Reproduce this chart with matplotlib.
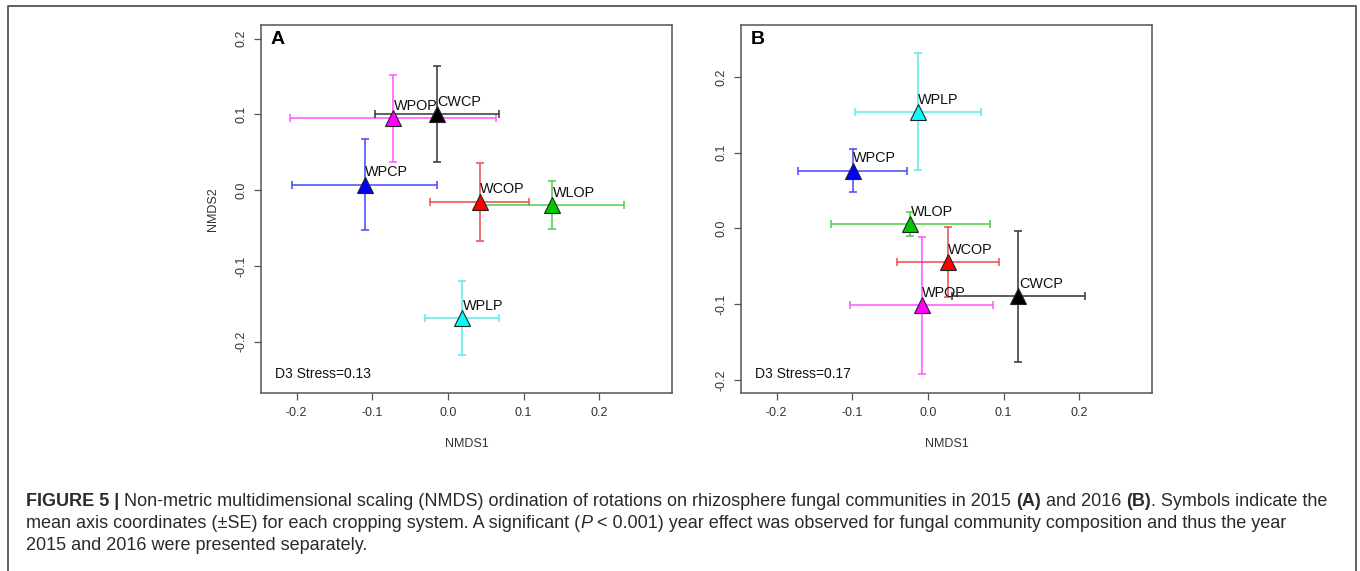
import matplotlib.pyplot as plt
from matplotlib.lines import Line2D

plt.rcParams['font.family'] = ['Liberation Sans', 'DejaVu Sans']

# cropping systems, same order in both years
groups = ["WPOP", "CWCP", "WPCP", "WCOP", "WLOP", "WPLP"]
fill_colors = ["#FF00FF", "#000000", "#0000FF", "#FF0000", "#00C800", "#00FFFF"]
bar_colors = ["#FF55FF", "#333333", "#4646FF", "#F04848", "#4ACD4A", "#5CEAEA"]

# 2015 (A): mean NMDS coordinates and SE
x_2015 = [-0.0725, -0.0150, -0.1100, 0.0420, 0.1378, 0.0185]
y_2015 = [0.0951, 0.1002, 0.0073, -0.0153, -0.0198, -0.1687]
sex_2015 = [0.1359, 0.0820, 0.0955, 0.0658, 0.0951, 0.0494]
sey_2015 = [0.0573, 0.0632, 0.0597, 0.0518, 0.0317, 0.0485]

# 2016 (B)
x_2016 = [-0.0082, 0.1194, -0.0995, 0.0260, -0.0233, -0.0137]
y_2016 = [-0.1014, -0.0897, 0.0762, -0.0444, 0.0057, 0.1539]
sex_2016 = [0.0945, 0.0881, 0.0718, 0.0674, 0.1048, 0.0833]
sey_2016 = [0.0903, 0.0866, 0.0282, 0.0461, 0.0159, 0.0773]

ticks = [-0.2, -0.1, 0.0, 0.1, 0.2]
tick_labels = ["-0.2", "-0.1", "0.0", "0.1", "0.2"]

fig = plt.figure(figsize=(13.6, 5.71), dpi=100)

W, H = 1360.0, 571.0
ax_a = fig.add_axes([261 / W, (H - 393.3) / H, 411.3 / W, 368.3 / H])
ax_b = fig.add_axes([741 / W, (H - 393.3) / H, 411.3 / W, 368.3 / H])


def draw_panel(ax, xs, ys, sexs, seys, letter, stress, ylim, ylabel):
    for i in range(len(groups)):
        ax.errorbar(xs[i], ys[i], xerr=sexs[i], yerr=seys[i], fmt='none',
                    ecolor=bar_colors[i], elinewidth=1.1, capsize=2.8,
                    capthick=1.1, zorder=2)
    for i in range(len(groups)):
        ax.plot(xs[i], ys[i], marker='^', ms=11, mfc=fill_colors[i],
                mec='#222222', mew=0.8, ls='none', zorder=3)
    for i in range(len(groups)):
        ax.annotate(groups[i], (xs[i], ys[i]), xytext=(0.5, 6),
                    textcoords='offset points', ha='left', va='baseline',
                    fontsize=10.4, color='#111111', zorder=4)

    ax.set_xlim(-0.247, 0.2965)
    ax.set_ylim(*ylim)
    ax.set_xticks(ticks)
    ax.set_xticklabels(tick_labels)
    ax.set_yticks(ticks)
    ax.set_yticklabels(tick_labels, rotation=90, va='center')
    ax.tick_params(length=5, width=0.9, color='#555555', labelsize=9,
                   labelcolor='#333333', pad=5)
    for s in ax.spines.values():
        s.set_color('#555555')
        s.set_linewidth(1.1)

    ax.text(0.024, 0.948, letter, transform=ax.transAxes, fontsize=14,
            fontweight='bold', ha='left', va='baseline')
    ax.text(0.034, 0.042, stress, transform=ax.transAxes, fontsize=10,
            ha='left', va='baseline', color='#111111')
    ax.text(0.5, -0.138, "NMDS1", transform=ax.transAxes, fontsize=9,
            ha='center', va='center', color='#333333')
    if ylabel:
        ax.text(-0.117, 0.5, "NMDS2", transform=ax.transAxes, fontsize=9,
                ha='center', va='center', rotation=90, color='#333333')


draw_panel(ax_a, x_2015, y_2015, sex_2015, sey_2015, "A", "D3 Stress=0.13",
           (-0.268, 0.218), True)
draw_panel(ax_b, x_2016, y_2016, sex_2016, sey_2016, "B", "D3 Stress=0.17",
           (-0.2176, 0.2686), False)

# frame around the figure (open at the bottom)
fx = [8 / W, 8 / W, 1355.7 / W, 1355.7 / W]
fy = [0, (H - 6) / H, (H - 6) / H, 0]
fig.add_artist(Line2D(fx, fy, transform=fig.transFigure, color='#555555',
                      lw=1.3))

# caption, drawn run by run so bold/italic pieces sit inline
caption = [
    [("FIGURE 5 | ", 'bold', 'normal'),
     ("Non-metric multidimensional scaling (NMDS) ordination of rotations on rhizosphere fungal communities in 2015 ", 'normal', 'normal'),
     ("(A)", 'bold', 'normal'), (" and 2016 ", 'normal', 'normal'),
     ("(B)", 'bold', 'normal'), (". Symbols indicate the", 'normal', 'normal')],
    [("mean axis coordinates (\u00b1SE) for each cropping system. A significant (", 'normal', 'normal'),
     ("P", 'normal', 'italic'),
     (" < 0.001) year effect was observed for fungal community composition and thus the year", 'normal', 'normal')],
    [("2015 and 2016 were presented separately.", 'normal', 'normal')],
]
baselines = [505.7, 528.0, 550.3]

renderer = fig.canvas.get_renderer()
for runs, base in zip(caption, baselines):
    x = 25.7 / W
    for text, weight, style in runs:
        t = fig.text(x, (H - base) / H, text, fontsize=12.95, fontweight=weight,
                     fontstyle=style, color='#2a2a2a', ha='left',
                     va='baseline')
        bb = t.get_window_extent(renderer)
        x += bb.width / W

fig.savefig("out.png", dpi=100)
